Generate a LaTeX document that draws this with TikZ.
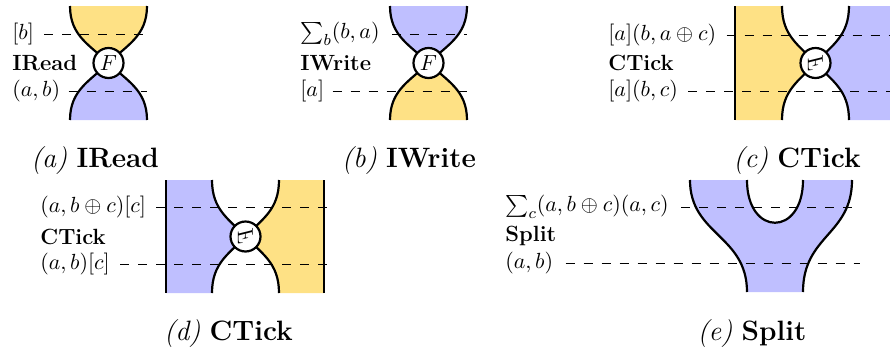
\documentclass[tikz,border=0pt]{standalone}
\usepackage{amsmath}
\usepackage{graphicx}
\definecolor{yel}{RGB}{254,225,133}
\definecolor{blu}{RGB}{191,191,255}
\tikzset{
 bd/.style={line width=1.1pt},
 dl/.style={line width=0.5pt, dash pattern=on 4.5pt off 4.5pt},
 lbl/.style={anchor=west, inner sep=0pt, font=\fontsize{11}{13}\selectfont},
 captxt/.style={anchor=base, inner sep=0pt, font=\fontsize{14}{16}\selectfont},
 fn/.style={circle, draw, line width=1.1pt, fill=white, minimum size=15pt, inner sep=0pt, font=\fontsize{11}{13}\selectfont},
}
\newcommand{\Frot}{\reflectbox{\rotatebox{-90}{$F$}}}
\begin{document}
\begin{tikzpicture}[x=0.5pt,y=-0.5pt]
\useasboundingbox (0,0) rectangle (890,349);
% ---------- (a) IRead
\fill[yel] (70,6) .. controls (70,36) and (90,45) .. (108.5,63) .. controls (127,45) and (147,36) .. (147,6) -- cycle;
\fill[blu] (70,120) .. controls (70,90) and (90,81) .. (108.5,63) .. controls (127,81) and (147,90) .. (147,120) -- cycle;
\node[lbl] (a1) at (12,34) {$[b]$};
\node[lbl] (a2) at (12,63) {\textbf{IRead}};
\node[lbl] (a3) at (12,91) {$(a,b)$};
\coordinate (a1e) at (147,34);
\coordinate (a3e) at (147,91);
\draw[dl] ([xshift=5pt]a1.east) -- (a1e);
\draw[dl] ([xshift=4pt]a3.east) -- (a3e);
\draw[bd] (70,6) .. controls (70,36) and (90,45) .. (108.5,63) .. controls (127,45) and (147,36) .. (147,6);
\draw[bd] (70,120) .. controls (70,90) and (90,81) .. (108.5,63) .. controls (127,81) and (147,90) .. (147,120);
\node[fn] (fa) at (108.5,63) {$F$};
\node[captxt] (ca) at (95,167) {\textit{(a)} \textbf{IRead}};
% ---------- (b) IWrite
\fill[blu] (390,6) .. controls (390,36) and (410,45) .. (428.5,63) .. controls (447,45) and (467,36) .. (467,6) -- cycle;
\fill[yel] (390,120) .. controls (390,90) and (410,81) .. (428.5,63) .. controls (447,81) and (467,90) .. (467,120) -- cycle;
\node[lbl] (b1) at (300,34) {$\sum_b(b,a)$};
\node[lbl] (b2) at (300,63) {\textbf{IWrite}};
\node[lbl] (b3) at (300,91) {$[a]$};
\coordinate (b1e) at (467,34);
\coordinate (b3e) at (467,91);
\draw[dl] ([xshift=6pt]b1.east) -- (b1e);
\draw[dl] ([xshift=4pt]b3.east) -- (b3e);
\draw[bd] (390,6) .. controls (390,36) and (410,45) .. (428.5,63) .. controls (447,45) and (467,36) .. (467,6);
\draw[bd] (390,120) .. controls (390,90) and (410,81) .. (428.5,63) .. controls (447,81) and (467,90) .. (467,120);
\node[fn] (fb) at (428.5,63) {$F$};
\node[captxt] (cb) at (409,167) {\textit{(b)} \textbf{IWrite}};
% ---------- (c) CTick
\fill[yel] (735,6) -- (782,6) .. controls (782,36) and (799,45) .. (815.5,63) .. controls (799,81) and (782,90) .. (782,120) -- (735,120) -- cycle;
\fill[blu] (849,6) .. controls (849,36) and (832,45) .. (815.5,63) .. controls (832,81) and (849,90) .. (849,120) -- (890,120) -- (890,6) -- cycle;
\node[lbl] (c1) at (608,35) {$[a](b,a\oplus c)$};
\node[lbl] (c2) at (608,63) {\textbf{CTick}};
\node[lbl] (c3) at (608,91) {$[a](b,c)$};
\coordinate (c1e) at (890,35);
\coordinate (c3e) at (890,91);
\draw[dl] ([xshift=5pt]c1.east) -- (c1e);
\draw[dl] ([xshift=5pt]c3.east) -- (c3e);
\draw[bd] (735,6) -- (735,120);
\draw[bd] (782,6) .. controls (782,36) and (799,45) .. (815.5,63) .. controls (799,81) and (782,90) .. (782,120);
\draw[bd] (849,6) .. controls (849,36) and (832,45) .. (815.5,63) .. controls (832,81) and (849,90) .. (849,120);
\node[fn] (fc) at (815.5,63) {\Frot};
\node[captxt] (cc) at (797,167) {\textit{(c)} \textbf{CTick}};
% ---------- (d) CTick
\fill[blu] (166,180) -- (212,180) .. controls (212,210) and (229,219) .. (245.5,236.5) .. controls (229,254) and (212,263) .. (212,293) -- (166,293) -- cycle;
\fill[yel] (279,180) .. controls (279,210) and (262,219) .. (245.5,236.5) .. controls (262,254) and (279,263) .. (279,293) -- (324,293) -- (324,180) -- cycle;
\node[lbl] (d1) at (40,207) {$(a,b\oplus c)[c]$};
\node[lbl] (d2) at (40,237) {\textbf{CTick}};
\node[lbl] (d3) at (40,264) {$(a,b)[c]$};
\coordinate (d1e) at (332,207);
\coordinate (d3e) at (332,264);
\draw[dl] ([xshift=5pt]d1.east) -- (d1e);
\draw[dl] ([xshift=5pt]d3.east) -- (d3e);
\draw[bd] (166,180) -- (166,293);
\draw[bd] (324,180) -- (324,293);
\draw[bd] (212,180) .. controls (212,210) and (229,219) .. (245.5,236.5) .. controls (229,254) and (212,263) .. (212,293);
\draw[bd] (279,180) .. controls (279,210) and (262,219) .. (245.5,236.5) .. controls (262,254) and (279,263) .. (279,293);
\node[fn] (fd) at (245.5,236.5) {\Frot};
\node[captxt] (cd) at (228.5,340) {\textit{(d)} \textbf{CTick}};
% ---------- (e) Split
\fill[blu] (690,180) .. controls (690,235) and (747,235) .. (747,292) -- (803,292) .. controls (803,235) and (852,235) .. (852,180) -- (803,180) .. controls (803,237) and (747,237) .. (747,180) -- cycle;
\node[lbl] (e1) at (505,207) {$\sum_c(a,b\oplus c)(a,c)$};
\node[lbl] (e2) at (505,236) {\textbf{Split}};
\node[lbl] (e3) at (505,263) {$(a,b)$};
\coordinate (e1e) at (860,207);
\coordinate (e3e) at (860,263);
\draw[dl] ([xshift=6pt]e1.east) -- (e1e);
\draw[dl] ([xshift=6pt]e3.east) -- (e3e);
\draw[bd] (690,180) .. controls (690,235) and (747,235) .. (747,292);
\draw[bd] (852,180) .. controls (852,235) and (803,235) .. (803,292);
\draw[bd] (747,180) .. controls (747,237) and (803,237) .. (803,180);
\node[captxt] (ce) at (752,340) {\textit{(e)} \textbf{Split}};
\end{tikzpicture}
\end{document}
